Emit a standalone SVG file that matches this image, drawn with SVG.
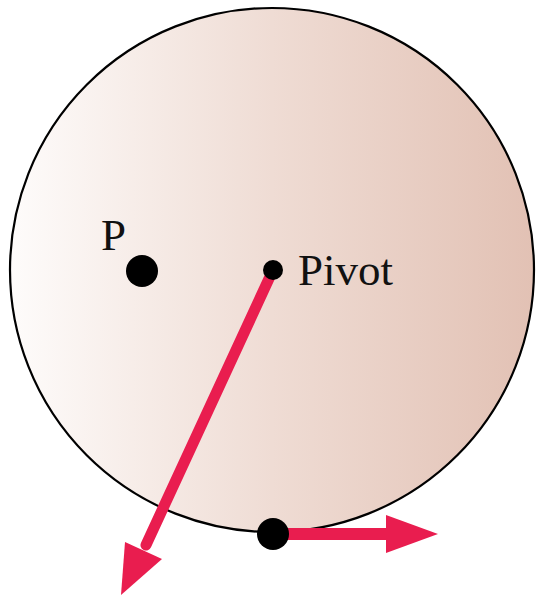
<svg xmlns="http://www.w3.org/2000/svg" width="536" height="597" viewBox="0 0 536 597">
<defs>
<linearGradient id="disk" x1="10" y1="0" x2="534" y2="0" gradientUnits="userSpaceOnUse">
<stop offset="0" stop-color="#fefcfb"/>
<stop offset="0.5" stop-color="#efdcd4"/>
<stop offset="1" stop-color="#e2c1b4"/>
</linearGradient>
<style>
.lbl{font-family:"Liberation Serif","Times New Roman",serif;font-size:45px;fill:#111}
.arrow{fill:#e91d4f}
.shaft{stroke:#e91d4f;fill:none}
.dot{fill:#000}
</style>
</defs>
<rect width="536" height="597" fill="#fff"/>
<g id="disk-body">
<circle cx="272" cy="270" r="262" fill="url(#disk)" stroke="#000" stroke-width="2.2"/>
</g>
<g id="connectors">
<line class="shaft" x1="273" y1="270" x2="146" y2="545" stroke-width="11" stroke-linecap="round"/>
<polygon class="arrow" points="121,595 125,542 162,559"/>
<line class="shaft" x1="273" y1="534" x2="390" y2="534" stroke-width="12"/>
<polygon class="arrow" points="438,534 386,515 386,553"/>
</g>
<g id="pivot">
<circle class="dot" cx="273" cy="270" r="10"/>
<text class="lbl" x="298" y="285">Pivot</text>
</g>
<g id="P">
<circle class="dot" cx="142" cy="271" r="16"/>
<text class="lbl" x="101" y="250">P</text>
</g>
<g id="rim-point">
<circle class="dot" cx="273" cy="534" r="16"/>
</g>
</svg>
